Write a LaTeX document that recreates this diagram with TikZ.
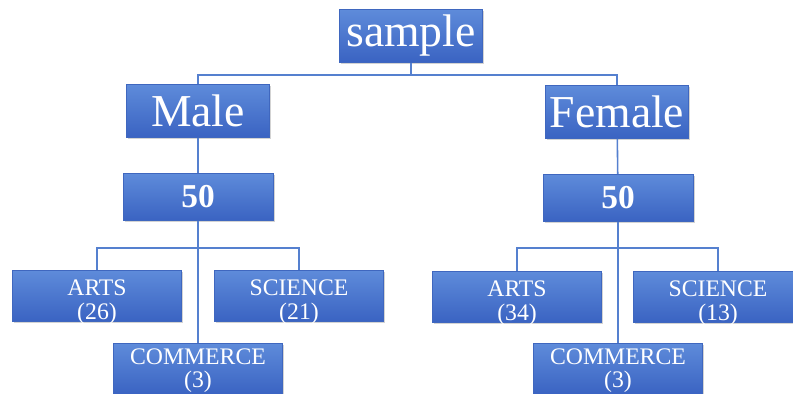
\documentclass[tikz,border=0pt]{standalone}
\usepackage{fontspec}
\setmainfont{Liberation Serif}
\usepackage{tikz}
\usetikzlibrary{shadows}
\definecolor{cTop}{HTML}{5E8BDA}
\definecolor{cBot}{HTML}{3A63C2}
\definecolor{cEdge}{HTML}{3F67BF}
\definecolor{cWire}{HTML}{5580CF}
\tikzset{
  box/.style={top color=cTop,bottom color=cBot,draw=cEdge,line width=0.3pt,text=white,align=center,inner sep=0pt,
    drop shadow={opacity=0.35,shadow xshift=1pt,shadow yshift=-1pt}},
  lvlA/.style={box,minimum width=2.86cm,minimum height=1.06cm,font=\fontsize{26}{28}\selectfont},
  lvlB/.style={box,minimum width=3.0cm,minimum height=0.94cm,font=\fontsize{19}{21}\selectfont\bfseries},
  lvlC/.style={box,minimum width=3.38cm,minimum height=1.02cm,font=\fontsize{13.5}{13}\selectfont},
  conn/.style={draw=cWire,line width=0.9pt},
}
% two-line subject label, sitting a bit below the box middle
\newcommand{\subj}[3][-7.5pt]{\raisebox{#1}[0pt][0pt]{\begin{tabular}{@{}c@{}}#2\\#3\end{tabular}}}

\begin{document}
\begin{tikzpicture}[x=0.02cm,y=-0.02cm]
  \useasboundingbox (0,0) rectangle (793,394);
  \clip (0,0) rectangle (793,394);
  % top
  \node[lvlA] (sample) at (411,36) {sample};
  \coordinate (jt) at (411,75);
  \node[lvlA] (male) at (198,111) {Male};
  \node[lvlA] (female) at (617,112) {Female};
  \node[lvlB] (m50) at (198,197) {50};
  \node[lvlB] (f50) at (618,198) {50};
  % male subjects
  \coordinate (jm) at (198,248);
  \node[lvlC] (marts) at (97,296) {\subj{ARTS}{(26)}};
  \node[lvlC] (msci) at (299,296) {\subj{SCIENCE}{(21)}};
  \node[lvlC] (mcom) at (198,369) {\subj[-5pt]{COMMERCE}{(3)}};
  % female subjects
  \coordinate (jf) at (618,248);
  \node[lvlC] (farts) at (517,297) {\subj{ARTS}{(34)}};
  \node[lvlC] (fsci) at (718,297) {\subj{SCIENCE}{(13)}};
  \node[lvlC] (fcom) at (618,369) {\subj[-5pt]{COMMERCE}{(3)}};
  \draw[conn] (sample) -- (jt); \draw[conn] (jt) -| (male); \draw[conn] (jt) -| (female);
  \draw[conn] (male) -- (m50); \draw[conn] (female) -- (f50);
  \draw[conn] (m50) -- (mcom); \draw[conn] (jm) -| (marts); \draw[conn] (jm) -| (msci);
  \draw[conn] (f50) -- (fcom); \draw[conn] (jf) -| (farts); \draw[conn] (jf) -| (fsci);
\end{tikzpicture}
\end{document}
